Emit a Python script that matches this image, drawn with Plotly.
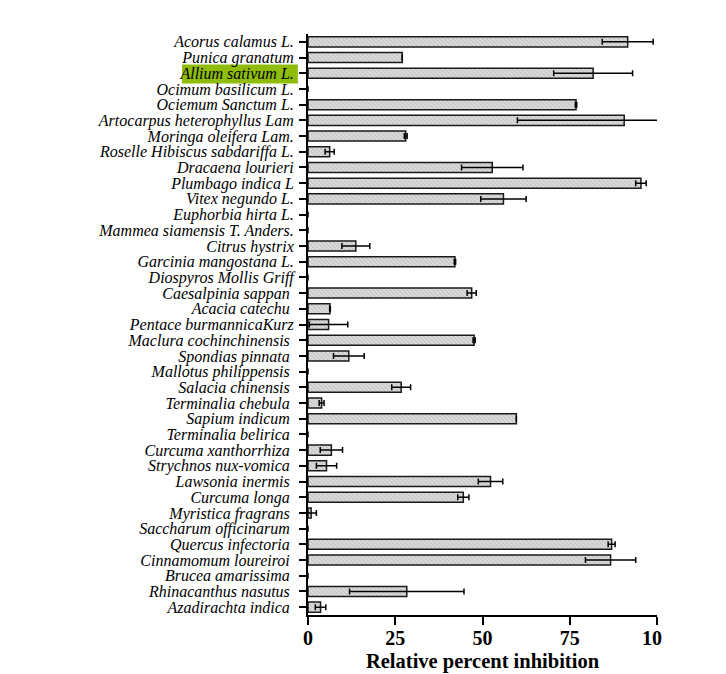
import plotly.graph_objects as go

species = [
    "Acorus calamus L.", "Punica granatum", "Allium sativum L.", "Ocimum basilicum L.",
    "Ociemum Sanctum L.", "Artocarpus heterophyllus Lam", "Moringa oleifera Lam.",
    "Roselle Hibiscus sabdariffa L.", "Dracaena lourieri", "Plumbago indica L",
    "Vitex negundo L.", "Euphorbia hirta L.", "Mammea siamensis T. Anders.",
    "Citrus hystrix", "Garcinia mangostana L.", "Diospyros Mollis Griff",
    "Caesalpinia sappan ", "Acacia catechu ", "Pentace burmannicaKurz",
    "Maclura cochinchinensis ", "Spondias pinnata ", "Mallotus philippensis ",
    "Salacia chinensis ", "Terminalia chebula ", "Sapium indicum ",
    "Terminalia belirica ", "Curcuma xanthorrhiza ", "Strychnos nux-vomica ",
    "Lawsonia inermis ", "Curcuma longa ", "Myristica fragrans ",
    "Saccharum officinarum ", "Quercus infectoria ", "Cinnamomum loureiroi ",
    "Brucea amarissima ", "Rhinacanthus nasutus ", "Azadirachta indica ",
]
inhibition = [
    91.6, 27.0, 81.7, 0.0, 76.8, 90.6, 28.0, 6.2, 52.8, 95.4,
    56.0, 0.0, 0.0, 13.7, 42.1, 0.0, 46.9, 6.3, 5.9, 47.6,
    11.7, 0.0, 26.7, 3.9, 59.7, 0.0, 6.7, 5.3, 52.3, 44.5,
    0.9, 0.0, 87.0, 86.7, 0.0, 28.3, 3.6,
]
sem = [
    7.3, 0.0, 11.3, 0.0, 0.2, 30.6, 0.4, 1.3, 8.8, 1.5,
    6.5, 0.0, 0.0, 4.0, 0.2, 0.0, 1.3, 0.1, 5.5, 0.3,
    4.4, 0.0, 2.7, 0.7, 0.0, 0.0, 3.2, 2.9, 3.5, 1.6,
    1.5, 0.0, 1.0, 7.2, 0.0, 16.4, 1.5,
]
x_ticks = [0, 25, 50, 75, 100]
x_ticktext = ["0", "25", "50", "75", "10\u2002"]
highlight = "Allium sativum L."

SERIF = "Liberation Serif"
outline_w = [1.5 if v > 0 else 0 for v in inhibition]

fig = go.Figure()
fig.add_trace(go.Bar(
    y=species, x=inhibition, orientation="h", width=0.64,
    marker=dict(
        color="#d4d4d4",
        line=dict(color="#1a1a1a", width=outline_w),
        pattern=dict(shape="\\", fgcolor="#9a9a9a", bgcolor="#dcdcdc", size=3, solidity=0.3),
    ),
    error_x=dict(type="data", array=sem, visible=True, color="black", thickness=1.5, width=3),
    showlegend=False,
))

hi = species.index(highlight)
fig.add_shape(type="rect", xref="paper", yref="y", x0=-0.361, x1=-0.029,
              y0=hi - 0.55, y1=hi + 0.66, fillcolor="#8fbb0a", line=dict(width=0), layer="below")

fig.update_layout(
    width=726, height=674,
    margin=dict(l=308, r=69, t=34, b=59, autoexpand=False),
    paper_bgcolor="white", plot_bgcolor="white",
    font=dict(family=SERIF, color="black"),
    xaxis=dict(
        automargin=False,
        range=[0, 100], tickmode="array", tickvals=x_ticks, ticktext=x_ticktext,
        showgrid=False, zeroline=False, showline=True, linecolor="black", linewidth=2,
        ticks="outside", ticklen=8, tickwidth=2, tickcolor="black",
        tickfont=dict(size=20, family=SERIF, weight="bold", color="black"),
        ticklabelstandoff=-4,
        title=dict(text="Relative percent inhibition",
                   font=dict(size=20.5, family=SERIF, weight="bold", color="black"), standoff=6),
    ),
    yaxis=dict(
        automargin=False,
        type="category", categoryorder="array", categoryarray=species,
        tickmode="array", tickvals=species, ticktext=species,
        range=[36.5, -0.5],
        showgrid=False, zeroline=False, showline=True, linecolor="black", linewidth=2,
        ticks="outside", ticklen=7, tickwidth=2, tickcolor="black",
        tickfont=dict(size=16, family=SERIF, style="italic", color="black"),
        ticklabelstandoff=2,
    ),
)

fig.write_html("out.html")
